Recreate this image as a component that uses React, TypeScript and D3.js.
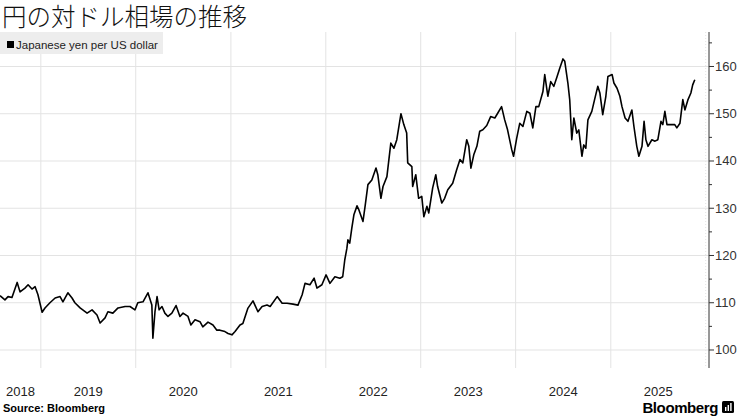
import React from "react";
import * as d3 from "d3";

const title = "円の対ドル相場の推移";
const legendLabel = "Japanese yen per US dollar";
const sourceText = "Source: Bloomberg";
const yTicks = [100, 110, 120, 130, 140, 150, 160];
const yMinorTicks = [105, 115, 125, 135, 145, 155, 165];
const yearTicks = ["2019", "2020", "2021", "2022", "2023", "2024", "2025"];
const yearLabels = ["2018", "2019", "2020", "2021", "2022", "2023", "2024", "2025"];

const rate2018: [string, number][] = [
  ["2018-07-28", 111.5], ["2018-08-16", 110.6], ["2018-08-28", 111.3], ["2018-09-12", 111.1],
  ["2018-10-02", 114.3], ["2018-10-13", 112.3], ["2018-11-01", 113.1], ["2018-11-13", 113.8],
  ["2018-11-28", 112.9], ["2018-12-10", 113.4], ["2018-12-21", 111.7],
];
const rate2019: [string, number][] = [
  ["2019-01-06", 108.0], ["2019-01-17", 108.9], ["2019-02-05", 110.0], ["2019-02-25", 111.0],
  ["2019-03-16", 111.3], ["2019-03-27", 110.2], ["2019-04-15", 112.1], ["2019-05-01", 111.0],
  ["2019-05-12", 110.0], ["2019-06-01", 108.9], ["2019-06-28", 107.8], ["2019-07-17", 108.5],
  ["2019-08-05", 107.4], ["2019-08-17", 105.7], ["2019-09-05", 106.8], ["2019-09-16", 108.1],
  ["2019-10-05", 107.8], ["2019-10-25", 108.9], ["2019-11-21", 109.2], ["2019-12-10", 109.2],
  ["2019-12-29", 108.5],
];
const rate2020: [string, number][] = [
  ["2020-01-09", 110.0], ["2020-01-29", 110.2], ["2020-02-17", 112.1], ["2020-03-03", 109.5],
  ["2020-03-07", 102.5], ["2020-03-15", 108.1], ["2020-03-23", 111.3], ["2020-03-31", 108.5],
  ["2020-04-11", 109.2], ["2020-04-22", 107.8], ["2020-05-04", 107.1], ["2020-05-19", 107.8],
  ["2020-06-04", 109.4], ["2020-06-19", 107.1], ["2020-07-01", 107.8], ["2020-07-20", 107.1],
  ["2020-07-31", 105.3], ["2020-08-16", 106.4], ["2020-09-04", 106.0], ["2020-09-15", 104.9],
  ["2020-10-05", 105.9], ["2020-10-24", 105.3], ["2020-11-08", 104.2], ["2020-11-20", 104.2],
  ["2020-12-09", 103.9], ["2020-12-21", 103.5],
];
const rate2021: [string, number][] = [
  ["2021-01-05", 103.2], ["2021-01-17", 103.9], ["2021-02-05", 105.3], ["2021-02-16", 105.6],
  ["2021-03-07", 108.8], ["2021-03-27", 110.4], ["2021-04-15", 108.1], ["2021-05-01", 109.2],
  ["2021-05-20", 109.5], ["2021-06-01", 109.2], ["2021-06-28", 111.3], ["2021-07-17", 109.9],
  ["2021-08-05", 109.9], ["2021-08-28", 109.7], ["2021-09-16", 109.5], ["2021-10-02", 111.7],
  ["2021-10-13", 114.1], ["2021-11-01", 113.8], ["2021-11-17", 115.2], ["2021-11-28", 113.1],
  ["2021-12-17", 113.8],
];
const rate2022: [string, number][] = [
  ["2022-01-02", 115.9], ["2022-01-17", 114.1], ["2022-02-05", 115.5], ["2022-02-24", 115.2],
  ["2022-03-07", 115.5], ["2022-03-15", 119.1], ["2022-03-23", 121.5], ["2022-03-27", 123.3],
  ["2022-04-03", 122.6], ["2022-04-11", 125.8], ["2022-04-19", 128.6], ["2022-05-01", 130.5],
  ["2022-05-08", 129.7], ["2022-05-24", 127.2], ["2022-06-01", 130.4], ["2022-06-12", 135.0],
  ["2022-06-27", 136.0], ["2022-07-13", 138.5], ["2022-07-20", 137.1], ["2022-08-01", 132.1],
  ["2022-08-09", 134.6], ["2022-08-24", 136.7], ["2022-09-08", 143.8], ["2022-09-20", 142.7],
  ["2022-10-01", 144.5], ["2022-10-17", 150.0], ["2022-10-28", 147.7], ["2022-11-08", 145.9],
  ["2022-11-12", 139.6], ["2022-11-28", 138.8], ["2022-12-01", 134.6], ["2022-12-13", 137.1],
  ["2022-12-24", 132.1],
];
const rate2023: [string, number][] = [
  ["2023-01-05", 132.5], ["2023-01-13", 128.2], ["2023-01-25", 130.4], ["2023-02-01", 129.0],
  ["2023-02-16", 134.3], ["2023-02-28", 137.1], ["2023-03-07", 134.6], ["2023-03-23", 131.1],
  ["2023-04-03", 132.1], ["2023-04-15", 133.9], ["2023-05-04", 135.3], ["2023-05-19", 138.1],
  ["2023-06-01", 140.3], ["2023-06-12", 139.6], ["2023-06-27", 144.5], ["2023-07-05", 143.1],
  ["2023-07-13", 138.5], ["2023-07-24", 141.3], ["2023-08-05", 143.1], ["2023-08-16", 146.3],
  ["2023-08-28", 146.6], ["2023-09-12", 147.5], ["2023-09-27", 149.4], ["2023-10-13", 149.1],
  ["2023-10-24", 150.1], ["2023-11-08", 151.5], ["2023-11-20", 148.7], ["2023-12-01", 146.6],
  ["2023-12-17", 142.4], ["2023-12-24", 141.0],
];
const rate2024: [string, number][] = [
  ["2024-01-05", 144.8], ["2024-01-17", 148.0], ["2024-01-29", 147.3], ["2024-02-13", 150.5],
  ["2024-02-25", 150.1], ["2024-03-07", 147.0], ["2024-03-19", 151.5], ["2024-03-30", 151.5],
  ["2024-04-15", 154.7], ["2024-04-22", 158.3], ["2024-05-04", 153.7], ["2024-05-15", 156.8],
  ["2024-05-27", 155.8], ["2024-06-07", 157.6], ["2024-06-19", 159.7], ["2024-07-01", 161.6],
  ["2024-07-08", 161.1], ["2024-07-20", 156.5], ["2024-07-27", 153.0], ["2024-08-04", 144.5],
  ["2024-08-12", 149.1], ["2024-08-23", 145.9], ["2024-08-31", 146.6], ["2024-09-12", 141.0],
  ["2024-09-19", 143.4], ["2024-09-27", 142.7], ["2024-10-05", 148.7], ["2024-10-20", 150.5],
  ["2024-11-01", 153.3], ["2024-11-12", 155.8], ["2024-11-20", 154.4], ["2024-12-01", 149.8],
  ["2024-12-13", 153.7], ["2024-12-21", 157.9],
];
const rate2025: [string, number][] = [
  ["2025-01-06", 158.3], ["2025-01-13", 156.5], ["2025-01-25", 155.4], ["2025-02-05", 153.7],
  ["2025-02-13", 151.5], ["2025-02-25", 149.1], ["2025-03-08", 148.4], ["2025-03-23", 150.8],
  ["2025-03-31", 147.3], ["2025-04-11", 143.1], ["2025-04-19", 141.0], ["2025-05-01", 143.1],
  ["2025-05-09", 148.4], ["2025-05-16", 144.5], ["2025-05-24", 143.1], ["2025-06-08", 144.5],
  ["2025-06-20", 144.2], ["2025-07-01", 144.5], ["2025-07-13", 148.4], ["2025-07-20", 147.7],
  ["2025-07-28", 150.5], ["2025-08-05", 147.7], ["2025-08-24", 147.7], ["2025-09-04", 147.7],
  ["2025-09-12", 147.0], ["2025-09-24", 148.0], ["2025-10-05", 153.0], ["2025-10-13", 150.8],
  ["2025-10-25", 153.0], ["2025-11-05", 154.4], ["2025-11-12", 156.1], ["2025-11-20", 157.2],
];

const W = 740;
const H = 416;

export default function App() {
  const parse = d3.timeParse("%Y-%m-%d");
  const data = [...rate2018, ...rate2019, ...rate2020, ...rate2021, ...rate2022, ...rate2023, ...rate2024, ...rate2025]
    .map(([d, v]) => ({ date: parse(d) as Date, value: v }));

  const x = d3.scaleTime()
    .domain([parse("2018-07-28") as Date, parse("2026-01-01") as Date])
    .range([0, 705.7]);
  const y = d3.scaleLinear().domain([96.4, 167.3]).range([367, 32]);
  const axisX = 709;

  const line = d3.line<{ date: Date; value: number }>()
    .x((d) => x(d.date))
    .y((d) => y(d.value));

  const yearStart = (yr: string) => x(parse(`${yr}-01-01`) as Date);
  const labelFont = "'Liberation Sans', Arial, sans-serif";

  return (
    <div style={{ position: "absolute", left: 0, top: 0 }}>
      <svg width={W} height={H} style={{ display: "block", background: "#fff" }}>
        {/* horizontal gridlines */}
        {yTicks.map((t) => (
          <line key={"hg" + t} x1={0} x2={axisX} y1={y(t)} y2={y(t)} stroke="#e3e3e3" strokeWidth={1} />
        ))}
        {/* vertical gridlines */}
        {yearTicks.map((yr) => (
          <line key={"vg" + yr} x1={yearStart(yr)} x2={yearStart(yr)} y1={32} y2={368} stroke="#e3e3e3" strokeWidth={1} />
        ))}
        <line x1={x(parse("2026-01-01") as Date)} x2={x(parse("2026-01-01") as Date)} y1={32} y2={368}
          stroke="#e3e3e3" strokeWidth={1} strokeDasharray="1,2" />

        {/* legend */}
        <rect x={0} y={32} width={163} height={22} fill="#ededed" />
        <rect x={7} y={41} width={7} height={7} fill="#000" />
        <text x={16} y={48.5} fontFamily={labelFont} fontSize={11.5} fill="#222">{legendLabel}</text>

        {/* line */}
        <path d={line(data) || ""} fill="none" stroke="#000" strokeWidth={1.6} strokeLinejoin="round" />

        {/* y axis */}
        <line x1={axisX} x2={axisX} y1={32} y2={368} stroke="#333" strokeWidth={1} />
        {yTicks.map((t) => (
          <g key={"yt" + t}>
            <line x1={axisX} x2={axisX + 5} y1={y(t)} y2={y(t)} stroke="#333" strokeWidth={1} />
            <text x={axisX + 6} y={y(t) + 4.5} fontFamily={labelFont} fontSize={13} fill="#333">{t}</text>
          </g>
        ))}
        {yMinorTicks.map((t) => (
          <line key={"ym" + t} x1={axisX} x2={axisX + 3} y1={y(t)} y2={y(t)} stroke="#333" strokeWidth={1} />
        ))}

        {/* x labels centered on visible portion of each year */}
        {yearLabels.map((yr) => {
          const a = Math.max(0, x(parse(`${yr}-01-01`) as Date));
          const b = Math.min(705.7, x(parse(`${+yr + 1}-01-01`) as Date));
          return (
            <text key={"xl" + yr} x={(a + b) / 2} y={396} textAnchor="middle" fontFamily={labelFont} fontSize={13} fill="#222">{yr}</text>
          );
        })}

        {/* title */}
        <text x={2} y={26} fontFamily="'Noto Sans CJK JP', sans-serif" fontWeight={300} fontSize={24.5} fill="#111">{title}</text>

        {/* source */}
        <text x={3} y={412} fontFamily={labelFont} fontWeight="bold" fontSize={11} fill="#000">{sourceText}</text>

        {/* Bloomberg logo */}
        <text x={718} y={413} textAnchor="end" fontFamily={labelFont} fontWeight="bold" fontSize={15} fill="#000" letterSpacing={-0.4}>Bloomberg</text>
        <rect x={722} y={401} width={12} height={12} rx={1.5} fill="#000" />
        <rect x={725} y={407} width={1.4} height={4} fill="#fff" />
        <rect x={727.6} y={405} width={1.4} height={6} fill="#fff" />
        <rect x={730.2} y={403} width={1.4} height={8} fill="#fff" />
      </svg>
    </div>
  );
}
